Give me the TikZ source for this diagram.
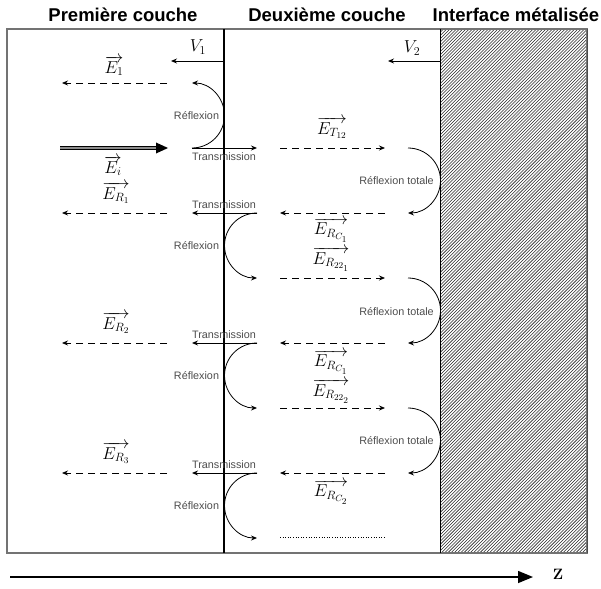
\documentclass[tikz,border=0pt]{standalone}
\usepackage{fontspec}
\setsansfont{Liberation Sans}
\usetikzlibrary{arrows.meta}
\newcommand\halfloop[3]{%
  \draw[#3] (#1) .. controls +({#2*17.95},0) and +(0,-17.95) .. ++({#2*32.5},32.5)
    .. controls +(0,17.95) and +({#2*17.95},0) .. ++({#2*(-32.5)},32.5);}
\begin{document}
\begin{tikzpicture}[x=1pt,y=-1pt,
  head/.style={font=\sffamily\bfseries\fontsize{18.5}{21}\selectfont, inner sep=0pt},
  small/.style={font=\sffamily\fontsize{10.8}{12}\selectfont, text=black!70, inner sep=0pt},
  mlab/.style={font=\fontsize{18.5}{21}\selectfont, inner sep=0pt},
  wave/.style={line width=0.8pt, dash pattern=on 7pt off 5pt, -{Stealth[length=6pt,width=5pt]}},
  arcst/.style={line width=0.8pt, -{Stealth[length=6pt,width=5pt]}},
  revarc/.style={line width=0.8pt, {Stealth[length=6pt,width=5pt]}-},
  trans/.style={line width=0.9pt, -{Stealth[length=6pt,width=5pt]}}]
\useasboundingbox (0,0) rectangle (601,588);
% headings
\node[head] (h1) at (123,15) {Première couche};
\node[head] (h2) at (327,15) {Deuxième couche};
\node[head] (h3) at (516,15) {Interface métalisée};
% metal
\begin{scope}
  \clip (440,29) rectangle (587,553);
  \foreach \i in {-530,-526.8,...,150}{
    \draw[line width=0.55pt, black!85] (440+\i,553) -- (964+\i,29);}
\end{scope}
\draw[black!55, line width=1.5pt] (7,29) rectangle (587,553);
\draw[line width=1pt] (440,29) -- (440,553);
\draw[black!70, line width=0.8pt] (587,29) -- (587,553);
% interface 1
\coordinate (i1t) at (224,29);
\coordinate (i1b) at (224,553);
\draw[line width=1.5pt] (i1t) -- (i1b);
% speeds
\coordinate (v1a) at (224,61); \coordinate (v1b) at (171,61);
\coordinate (v2a) at (440,61); \coordinate (v2b) at (388,61);
\draw[trans] (v1a) -- (v1b);
\draw[trans] (v2a) -- (v2b);
\node[mlab] (V1) at (198,47) {$V_1$};
\node[mlab] (V2) at (412,48) {$V_2$};
% incident wave
\coordinate (ia) at (60,148); \coordinate (ib) at (158,148);
\draw[line width=1.4pt, double=black!45, double distance=1.6pt] (ia) -- (ib);
\fill (156,142.5) -- (168,148) -- (156,153.5) -- cycle;
% left dashed (reflected into first layer)
\foreach \y in {83,213,343,473}{
  \draw[wave] (167,\y) -- (62,\y);}
% second layer dashed
\foreach \y in {148,278,408}{
  \draw[wave] (280,\y) -- (385,\y);}
\foreach \y in {213,343,473}{
  \draw[wave] (385,\y) -- (280,\y);}
\draw[line width=0.6pt, dotted] (280,537) -- (385,537);
% transmissions
\draw[trans] (192,148) -- (257,148);
\foreach \y in {213,343,473}{
  \draw[trans] (257,\y) -- (192,\y);}
% reflection loops
\coordinate (r0) at (192,83);
\halfloop{r0}{1}{revarc}
\foreach \y in {213,343,473}{
  \coordinate (rl) at (257,\y);
  \halfloop{rl}{-1}{arcst}}
\foreach \y in {148,278,408}{
  \coordinate (rr) at (408,\y);
  \halfloop{rr}{1}{arcst}}
% small labels
\node[small] (rf0) at (196.5,116) {Réflexion};
\node[small] (rf1) at (196.5,246) {Réflexion};
\node[small] (rf2) at (196.5,376) {Réflexion};
\node[small] (rf3) at (196.5,506) {Réflexion};
\node[small] (rt1) at (396.5,181) {Réflexion totale};
\node[small] (rt2) at (396.5,312) {Réflexion totale};
\node[small] (rt3) at (396.5,441) {Réflexion totale};
\node[small] (t0) at (224,157) {Transmission};
\node[small] (t1) at (224,205) {Transmission};
\node[small] (t2) at (224,335) {Transmission};
\node[small] (t3) at (224,465) {Transmission};
% math labels
\node[mlab] (E1) at (114,66) {$\overrightarrow{E_1}$};
\node[mlab] (Ei) at (113,166) {$\overrightarrow{E_i}$};
\node[mlab] (ER1) at (116,193) {$\overrightarrow{E_{R_1}}$};
\node[mlab] (ER2) at (116,323) {$\overrightarrow{E_{R_2}}$};
\node[mlab] (ER3) at (116,453) {$\overrightarrow{E_{R_3}}$};
\node[mlab] (ET) at (332,128) {$\overrightarrow{E_{T_{12}}}$};
\node[mlab] (ERC1) at (331,230) {$\overrightarrow{E_{R_{C_1}}}$};
\node[mlab] (ER221) at (331,259) {$\overrightarrow{E_{R_{22_1}}}$};
\node[mlab] (ERC1b) at (331,362) {$\overrightarrow{E_{R_{C_1}}}$};
\node[mlab] (ER222) at (331,391) {$\overrightarrow{E_{R_{22_2}}}$};
\node[mlab] (ERC2) at (331,492) {$\overrightarrow{E_{R_{C_2}}}$};
% z axis
\coordinate (za) at (10,577); \coordinate (zb) at (533,577);
\draw[line width=1.5pt, -{Triangle[length=15pt,width=12pt]}] (za) -- (zb);
\node[font=\fontsize{15}{17}\selectfont\bfseries, inner sep=0pt] (Z) at (558,574) {Z};
\end{tikzpicture}
\end{document}
